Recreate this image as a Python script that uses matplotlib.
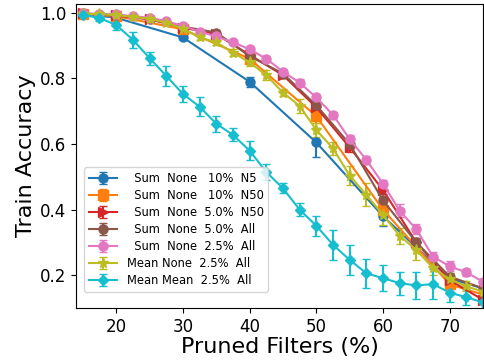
import matplotlib
matplotlib.use('Agg')
import matplotlib.pyplot as plt
import numpy as np

# pruned filter percentages for each run
x_10 = [15, 20, 30, 40, 50, 60, 70, 80]
x_5 = [15, 20, 25, 30, 35, 40, 45, 50, 55, 60, 65, 70, 75, 80]
x_25 = [15, 17.5, 20, 22.5, 25, 27.5, 30, 32.5, 35, 37.5, 40, 42.5, 45, 47.5,
        50, 52.5, 55, 57.5, 60, 62.5, 65, 67.5, 70, 72.5, 75]

#Sum None 10% N5
acc_n5 = [0.997, 0.985, 0.925, 0.79, 0.605, 0.38, 0.19, 0.13]
err_n5 = [0.003, 0.004, 0.006, 0.015, 0.045, 0.03, 0.015, 0.01]
#Sum None 10% N50
acc_n50 = [0.997, 0.99, 0.95, 0.86, 0.685, 0.40, 0.172, 0.11]
err_n50 = [0.002, 0.003, 0.005, 0.01, 0.02, 0.02, 0.012, 0.01]
#Sum None 5.0% N50
acc_n50_5 = [0.998, 0.992, 0.98, 0.955, 0.935, 0.872, 0.81, 0.712, 0.59, 0.46,
             0.30, 0.185, 0.125, 0.09]
err_n50_5 = [0.002, 0.003, 0.004, 0.004, 0.006, 0.008, 0.01, 0.015, 0.015, 0.02,
             0.015, 0.012, 0.01, 0.01]
#Sum None 5.0% All
acc_all_5 = [0.998, 0.993, 0.982, 0.958, 0.94, 0.868, 0.815, 0.718, 0.60, 0.428,
             0.30, 0.196, 0.16, 0.12]
err_all_5 = [0.002, 0.003, 0.004, 0.004, 0.005, 0.008, 0.01, 0.012, 0.015, 0.02,
             0.015, 0.012, 0.012, 0.01]
#Sum None 2.5% All
acc_all_25 = [0.998, 0.997, 0.995, 0.99, 0.985, 0.975, 0.96, 0.943, 0.928, 0.91,
              0.889, 0.86, 0.821, 0.787, 0.742, 0.689, 0.615, 0.552, 0.479, 0.397,
              0.34, 0.257, 0.227, 0.209, 0.18]
err_all_25 = [0.002, 0.002, 0.002, 0.003, 0.003, 0.004, 0.004, 0.005, 0.005, 0.006,
              0.007, 0.008, 0.008, 0.01, 0.01, 0.01, 0.012, 0.012, 0.012, 0.02,
              0.015, 0.015, 0.015, 0.01, 0.01]
#Mean None 2.5% All
acc_mean = [0.997, 0.996, 0.993, 0.988, 0.982, 0.97, 0.952, 0.925, 0.91, 0.879,
            0.849, 0.81, 0.757, 0.716, 0.643, 0.587, 0.504, 0.445, 0.384, 0.32,
            0.277, 0.222, 0.188, 0.166, 0.15]
err_mean = [0.002, 0.002, 0.003, 0.003, 0.004, 0.005, 0.006, 0.008, 0.008, 0.01,
            0.012, 0.015, 0.012, 0.02, 0.02, 0.02, 0.03, 0.035, 0.03, 0.025,
            0.03, 0.02, 0.02, 0.015, 0.012]
#Mean Mean 2.5% All
acc_mm = [0.994, 0.984, 0.963, 0.918, 0.862, 0.808, 0.753, 0.714, 0.662, 0.628,
          0.58, 0.515, 0.465, 0.40, 0.351, 0.293, 0.247, 0.206, 0.191, 0.176,
          0.169, 0.173, 0.147, 0.133, 0.117]
err_mm = [0.008, 0.01, 0.015, 0.025, 0.02, 0.03, 0.025, 0.03, 0.025, 0.02,
          0.03, 0.025, 0.015, 0.02, 0.03, 0.045, 0.045, 0.045, 0.04, 0.035,
          0.04, 0.045, 0.03, 0.025, 0.02]

labels = ['  Sum  None   10%  N5', '  Sum  None   10%  N50', '  Sum  None  5.0%  N50',
          '  Sum  None  5.0%  All', '  Sum  None  2.5%  All', 'Mean None  2.5%  All',
          'Mean Mean  2.5%  All']

runs = [(x_10, acc_n5, err_n5, 'tab:blue', 'o'),
        (x_10, acc_n50, err_n50, 'tab:orange', 's'),
        (x_5, acc_n50_5, err_n50_5, 'tab:red', '>'),
        (x_5, acc_all_5, err_all_5, 'tab:brown', 'o'),
        (x_25, acc_all_25, err_all_25, 'tab:pink', 'o'),
        (x_25, acc_mean, err_mean, 'tab:olive', '*'),
        (x_25, acc_mm, err_mm, 'tab:cyan', 'D')]

fig = plt.figure(figsize=(4.85, 3.62), dpi=100)
ax = fig.add_axes([0.157, 0.149, 0.839, 0.840])

for (x, y, e, c, m), lab in zip(runs, labels):
  ms = 8 if m == '*' else (5 if m == 'D' else 6.5)
  ax.errorbar(x, y, yerr=e, color=c, marker=m, markersize=ms, capsize=3,
              linewidth=1.5, label=lab)

ax.set_xlim(14, 75)
ax.set_ylim(0.1, 1.027)
ax.set_xticks([20, 30, 40, 50, 60, 70])
ax.set_yticks([0.2, 0.4, 0.6, 0.8, 1.0])
ax.tick_params(labelsize=12)
ax.set_xlabel('Pruned Filters (%)', fontsize=16, labelpad=1)
ax.set_ylabel('Train Accuracy', fontsize=16, labelpad=3)

ax.legend(loc='lower left', bbox_to_anchor=(0.005, 0.035), fontsize=8.3,
          handlelength=2.5, labelspacing=0.35, borderpad=0.4)

fig.savefig('out.png', dpi=100)
